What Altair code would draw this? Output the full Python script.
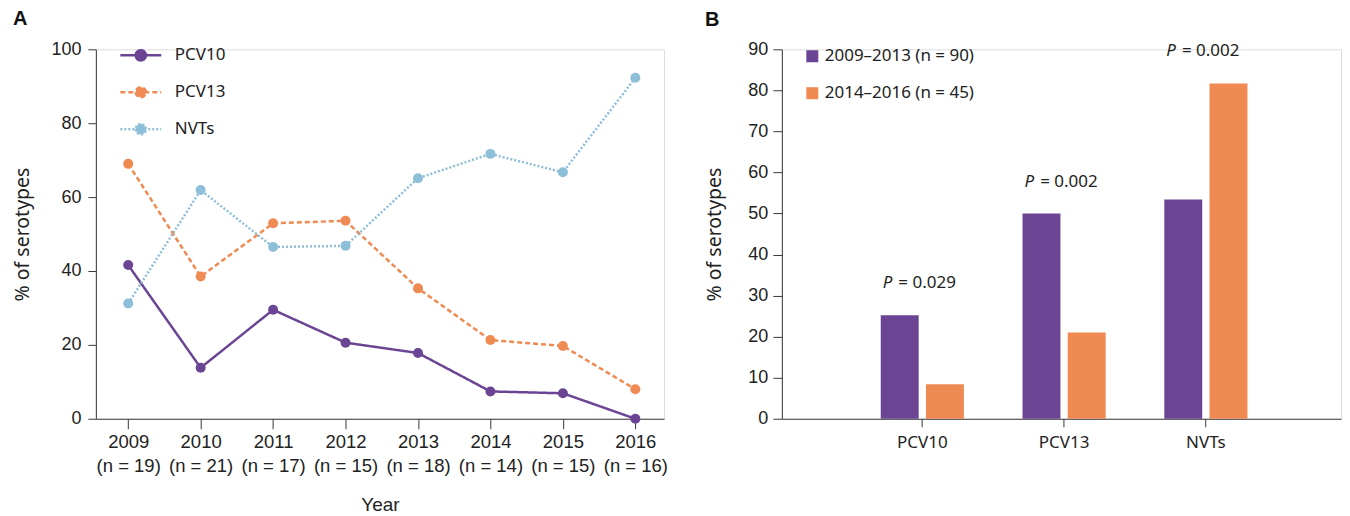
import altair as alt
import pandas as pd

# ---------------- Panel A data ----------------
years = ["2009", "2010", "2011", "2012", "2013", "2014", "2015", "2016"]
year_n = [19, 21, 17, 15, 18, 14, 15, 16]
pcv10 = [41.6, 13.8, 29.5, 20.6, 17.8, 7.4, 6.9, 0.0]
pcv13 = [69.0, 38.5, 52.9, 53.6, 35.3, 21.3, 19.7, 8.0]
nvts = [31.2, 61.9, 46.5, 46.8, 65.1, 71.7, 66.7, 92.3]
series = ["PCV10", "PCV13", "NVTs"]
series_colors = ["#6B4593", "#F08A53", "#8EBFD9"]
series_dash = [[1, 0], [5, 3], [2, 2]]

# ---------------- Panel B data ----------------
groups = ["PCV10", "PCV13", "NVTs"]
periods = ["2009–2013 (n = 90)", "2014–2016 (n = 45)"]
period_colors = ["#6B4593", "#F08A53"]
early = [25.2, 50.0, 53.4]
late = [8.4, 21.0, 81.7]
p_text = ["= 0.029", "= 0.002", "= 0.002"]

LAB = "Liberation Sans, Arial, sans-serif"
GEO = "Noto Sans, Open Sans, sans-serif"
INK = "#222222"
AX = "#3a3a3a"

rows = []
for vals, name in zip([pcv10, pcv13, nvts], series):
    for y, n, v in zip(years, year_n, vals):
        rows.append({"yl": f"{y}|(n = {n})", "series": name, "v": v})
dfA = pd.DataFrame(rows)
year_labels = [f"{y}|(n = {n})" for y, n in zip(years, year_n)]

xA = alt.X(
    "yl:O",
    sort=year_labels,
    scale=alt.Scale(type="point", padding=0.421, align=0.53),
    axis=alt.Axis(
        title="Year", labelExpr="split(datum.label, '|')", labelAngle=0,
        labelFont=LAB, labelFontSize=18.5, labelLineHeight=24, labelColor=INK,
        labelPadding=4, tickSize=10, tickColor=AX, domainColor=AX,
        titleFont=LAB, titleFontSize=19, titleFontWeight="normal", titleColor=INK,
        titlePadding=20,
    ),
)
yA = alt.Y(
    "v:Q",
    scale=alt.Scale(domain=[0, 100]),
    axis=alt.Axis(
        values=[0, 20, 40, 60, 80, 100], grid=False, title="% of serotypes",
        labelFont=LAB, labelFontSize=18, labelColor=INK, labelPadding=7,
        tickSize=8, tickColor=AX, domainColor=AX,
        titleFont=GEO, titleFontSize=19.5, titleFontWeight="normal", titleColor=INK,
        titlePadding=18,
    ),
)

legA = alt.Legend(
    title=None, orient="none", legendX=23, legendY=-12.5, padding=0,
    symbolType="M-1,0H1M-0.25,0A0.25,0.25 0 1,0 0.25,0A0.25,0.25 0 1,0 -0.25,0Z",
    symbolSize=1681, symbolStrokeWidth=2.5, clipHeight=37, rowPadding=0,
    symbolOpacity=1,
    labelFont=GEO, labelFontSize=17, labelColor=INK, labelOffset=12,
)

linesA = alt.Chart(dfA).mark_line(strokeWidth=2.5).encode(
    x=xA, y=yA,
    color=alt.Color("series:N", scale=alt.Scale(domain=series, range=series_colors), legend=legA),
    strokeDash=alt.StrokeDash("series:N", scale=alt.Scale(domain=series, range=series_dash), legend=legA),
)
pointsA = alt.Chart(dfA).mark_point(filled=True, size=100, opacity=1).encode(
    x=xA, y=yA,
    fill=alt.Fill("series:N", scale=alt.Scale(domain=series, range=series_colors), legend=legA),
)
chartA = alt.layer(linesA, pointsA).properties(
    width=569, height=370,
    title=alt.TitleParams("A", anchor="start", frame="bounds", font=LAB, fontSize=20,
                          fontWeight="bold", color="#111111", offset=8),
)

# ---------------- Panel B ----------------
rowsB = []
for g, a, b in zip(groups, early, late):
    rowsB.append({"group": g, "period": periods[0], "value": a})
    rowsB.append({"group": g, "period": periods[1], "value": b})
dfB = pd.DataFrame(rowsB)
dfP = pd.DataFrame({"group": groups, "value": [max(a, b) for a, b in zip(early, late)], "ptxt": p_text})

xB = alt.X(
    "group:N", sort=groups,
    scale=alt.Scale(paddingInner=0, paddingOuter=0.472, align=0.52),
    axis=alt.Axis(
        title=None, labelAngle=0, labelFont=GEO, labelFontSize=17, labelColor=INK,
        labelPadding=8, tickSize=8, tickColor=AX, domainColor=AX,
    ),
)
yB = alt.Y(
    "value:Q", scale=alt.Scale(domain=[0, 90]),
    axis=alt.Axis(
        values=list(range(0, 91, 10)), grid=False, title="% of serotypes",
        labelFont=LAB, labelFontSize=18, labelColor=INK, labelPadding=5,
        tickSize=9, tickColor=AX, domainColor=AX,
        titleFont=GEO, titleFontSize=19.5, titleFontWeight="normal", titleColor=INK,
        titlePadding=23,
    ),
)

bars = alt.Chart(dfB).mark_bar().encode(
    x=xB,
    xOffset=alt.XOffset("period:N", sort=periods,
                        scale=alt.Scale(paddingInner=0.161, paddingOuter=0.648)),
    y=yB,
    fill=alt.Fill(
        "period:N", scale=alt.Scale(domain=periods, range=period_colors),
        legend=alt.Legend(
            title=None, orient="none", legendX=22, legendY=-11.5, padding=0,
            symbolType="square", symbolSize=144, symbolStrokeWidth=0,
            clipHeight=37, rowPadding=0, symbolOpacity=1,
            labelFont=GEO, labelFontSize=17, labelColor=INK, labelOffset=4,
        ),
    ),
)
pItalic = alt.Chart(dfP).mark_text(
    text="P", fontStyle="italic", align="right", baseline="middle", dx=-30, dy=-32,
    font=GEO, fontSize=17, color=INK,
).encode(x=xB, y=yB)
pRest = alt.Chart(dfP).mark_text(
    align="left", baseline="middle", dx=-24, dy=-32, font=GEO, fontSize=17, color=INK,
).encode(x=xB, y=yB, text="ptxt:N")

chartB = alt.layer(bars, pItalic, pRest).properties(
    width=560, height=370,
    title=alt.TitleParams("B", anchor="start", frame="bounds", font=LAB, fontSize=20,
                          fontWeight="bold", color="#111111", offset=8),
)

chart = (
    alt.hconcat(chartA, chartB, spacing=36)
    .resolve_scale(color="independent", fill="independent", strokeDash="independent")
    .properties(padding={"left": 4, "top": 0, "right": 0, "bottom": 0})
    .configure_view(strokeWidth=0, stroke="transparent")
    .configure(background="white")
)

chart.save("out.html", embed_options={"renderer": "svg", "actions": False})
